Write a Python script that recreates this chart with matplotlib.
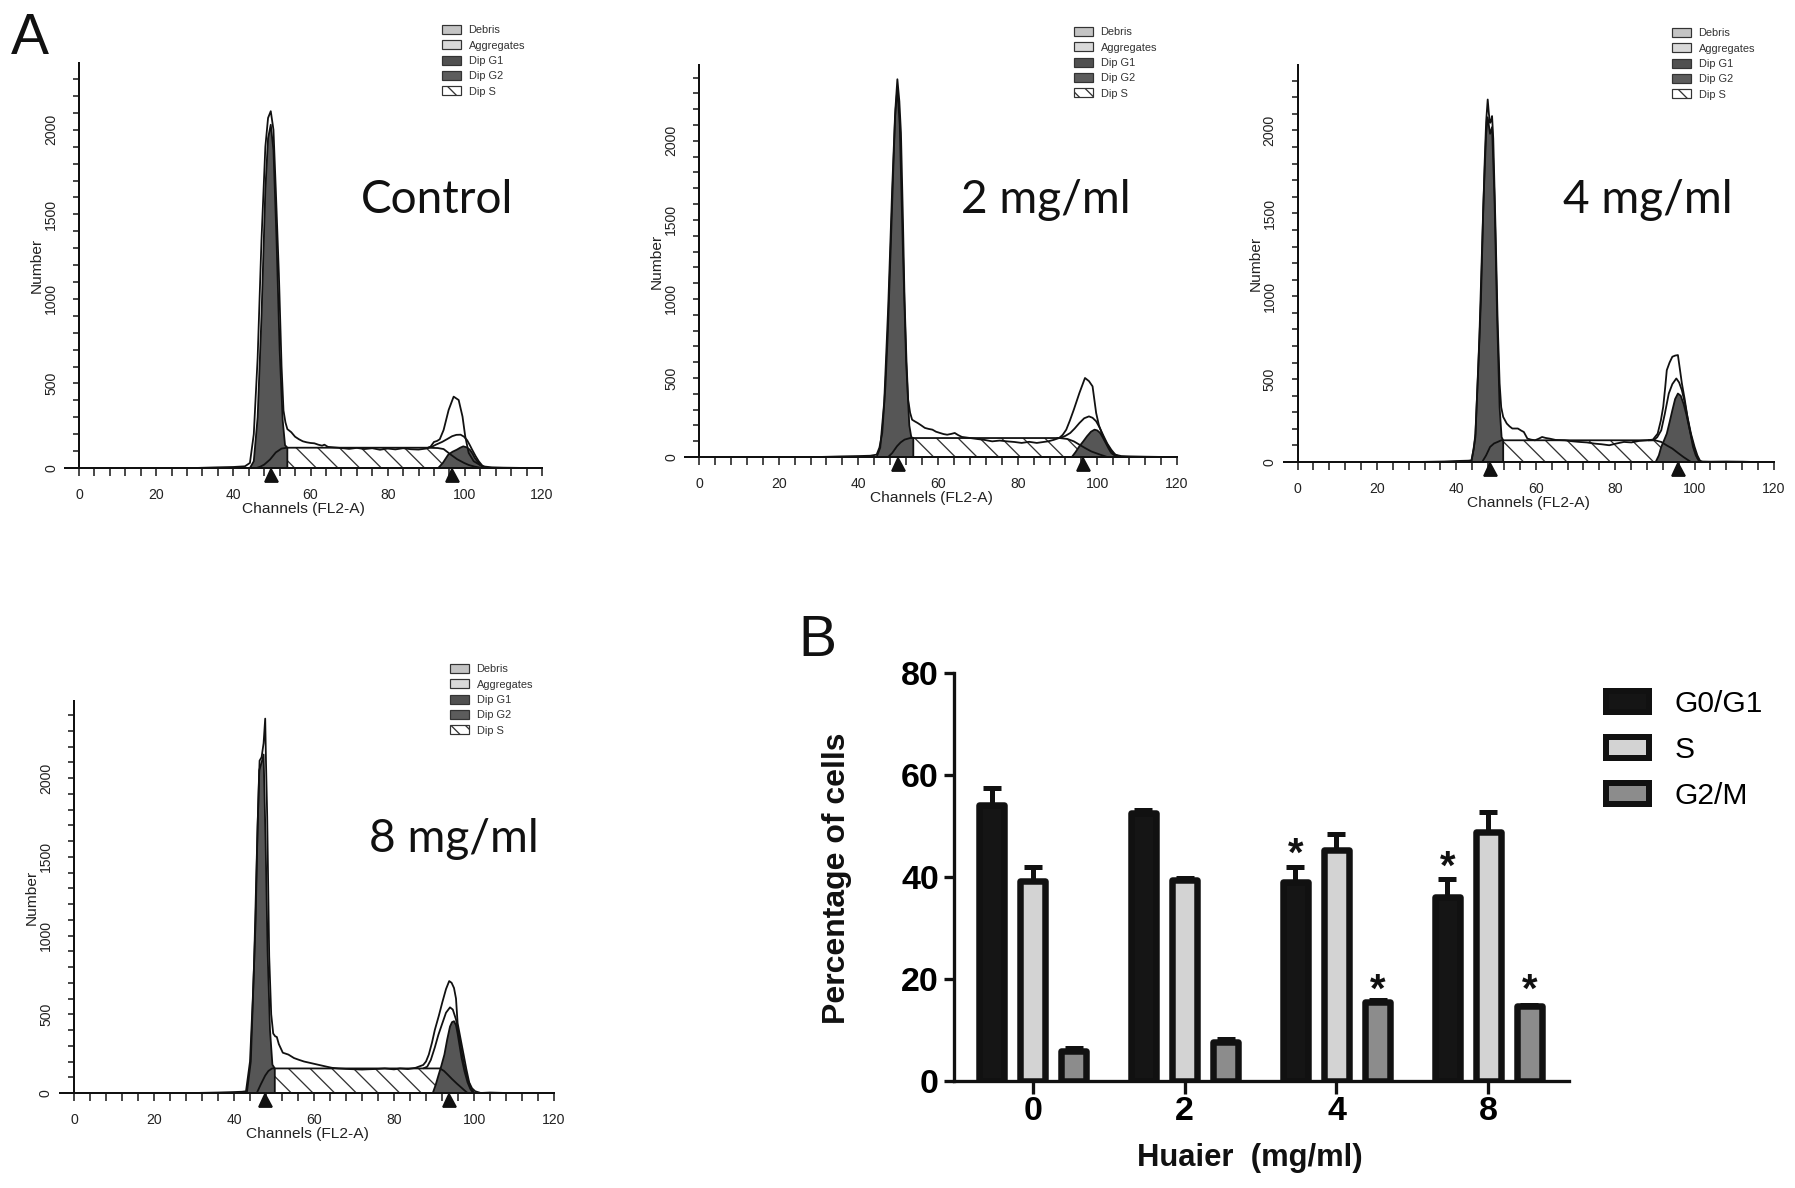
import numpy as np
import matplotlib
matplotlib.use('Agg')
import matplotlib.pyplot as plt
from matplotlib.patches import Patch
from matplotlib.ticker import MultipleLocator, FixedLocator
from matplotlib.transforms import offset_copy

DPI = 130
W, H = 1795, 1188


def pt(px):
    return px * 72.0 / DPI


plt.rcParams['font.family'] = ['Liberation Sans', 'DejaVu Sans']
plt.rcParams['hatch.linewidth'] = pt(1.3)
plt.rcParams['hatch.color'] = '#333333'

# ---------------------------------------------------------------- data (A)
hist_legend_labels = ['Debris', 'Aggregates', 'Dip G1', 'Dip G2', 'Dip S']
panel_titles = ['Control', '2 mg/ml', '4 mg/ml', '8 mg/ml']

# Control
ctrl_env_x = [30, 36, 40, 43, 44.3, 45.3, 46.3, 47.3, 48.3, 49.0, 49.7, 50.4, 51.0, 51.8, 52.5,
              53.0, 53.5, 54.0, 55.0, 56.0, 57.0, 58.0, 59.0, 60.0, 61.0, 62.0, 63.0, 63.6, 64.5,
              66.0, 68.0, 70.0, 72.0, 74.0, 76.0, 78.0, 80.0, 82.0, 84.0, 86.0, 88.0, 90.0, 91.1,
              92.0, 92.8, 93.5, 94.5, 95.8, 97.1, 98.4, 99.4, 100.1, 101.0, 102.3, 104.5, 107.0,
              110.0, 116.0]
ctrl_env_y = [0, 4, 6, 10, 30, 200, 650, 1350, 1900, 2070, 2110, 2000, 1650, 1150, 600,
              340, 270, 230, 212, 185, 170, 158, 152, 148, 146, 138, 132, 138, 125,
              122, 118, 113, 119, 112, 117, 108, 115, 110, 117, 111, 109, 115, 126,
              154, 160, 170, 225, 343, 422, 402, 304, 187, 89, 40, 10, 4,
              2, 0]
ctrl_g1_x = [44.3, 45.3, 46.3, 47.3, 48.3, 49.0, 49.7, 50.4, 51.2, 52.0, 52.8, 53.4, 54.0, 54.0]
ctrl_g1_y = [0, 40, 300, 900, 1650, 1950, 2030, 1880, 1350, 700, 280, 135, 120, 0]
ctrl_s_x = [46.0, 47.0, 48.0, 49.5, 51.0, 52.5, 54.0, 60, 70, 80, 90, 93.0, 94.5, 96.3, 98.0,
            99.8, 101.0, 102.4, 104.0, 105.0]
ctrl_s_y = [0, 8, 20, 50, 92, 115, 120, 120, 120, 120, 120, 118, 112, 80, 52, 30, 18, 9, 2, 0]
ctrl_g2_x = [93.1, 94.3, 95.7, 96.8, 97.9, 98.8, 99.6, 100.5, 101.3, 102.0, 102.6, 103.3, 103.9,
             104.6, 105.2]
ctrl_g2_y = [0, 30, 79, 96, 108, 120, 128, 122, 108, 85, 59, 38, 20, 9, 0]
ctrl_fit_x = [90.5, 91.5, 92.5, 94.1, 95.5, 96.7, 97.8, 98.9, 99.8, 100.6, 101.3, 101.9, 102.8,
              103.6, 104.5, 105.3]
ctrl_fit_y = [120, 126, 138, 154, 172, 188, 196, 197, 185, 164, 135, 108, 70, 40, 15, 4]
ctrl_peaks = [49.8, 96.7]

# 2 mg/ml
mg2_env_x = [30, 36, 40, 43, 44.6, 45.3, 46.0, 46.8, 47.4, 48.1, 48.8, 49.3, 49.8, 50.3,
             50.7, 51.2, 51.6, 52.1, 52.5, 53.0, 53.5, 54.2, 54.9, 55.8, 56.7, 57.6, 58.6, 59.5,
             60.5, 61.4, 62.3, 63.3, 64.2, 65.1, 66.0, 67.5, 69.8, 71.7, 73.6, 75.5, 77.3, 79.2,
             81.0, 82.9, 84.8, 86.2, 87.6, 89.0, 90.4, 91.3, 92.2, 93.1, 94.1, 95.5, 96.9, 97.9,
             98.8, 99.7, 100.4, 101.1, 101.8, 102.5, 103.4, 104.4, 106.0, 108.0, 112.0, 117.0]
mg2_env_y = [0, 4, 6, 8, 15, 60, 152, 450, 785, 1300, 1840, 2200, 2390, 2250,
             2050, 1500, 996, 600, 363, 280, 236, 225, 215, 200, 184, 178, 173, 160,
             152, 145, 141, 146, 152, 138, 127, 122, 114, 108, 99, 104, 99, 95,
             89, 96, 89, 94, 99, 108, 120, 140, 173, 230, 300, 405, 500, 480,
             447, 279, 200, 152, 110, 78, 40, 15, 6, 4, 2, 0]
mg2_g1_x = [44.6, 45.5, 46.5, 47.5, 48.5, 49.2, 49.8, 50.4, 51.2, 52.0, 52.8, 53.3, 53.8, 53.8]
mg2_g1_y = [0, 60, 350, 950, 1700, 2150, 2330, 2100, 1300, 600, 200, 125, 120, 0]
mg2_s_x = [47.5, 48.5, 49.7, 50.6, 51.6, 53.0, 60, 70, 80, 90.5, 92.5, 94.1, 95.5, 96.9, 98.5,
           100.7, 102.5]
mg2_s_y = [0, 25, 68, 92, 110, 120, 120, 120, 120, 120, 114, 99, 78, 57, 35, 15, 0]
mg2_g2_x = [93.6, 94.5, 95.5, 96.5, 97.4, 98.4, 99.3, 100.0, 100.7, 101.4, 102.1, 102.8, 103.5,
            104.9]
mg2_g2_y = [0, 30, 68, 100, 131, 160, 173, 168, 152, 122, 89, 55, 25, 0]
mg2_fit_x = [90.0, 90.8, 92.0, 93.2, 94.3, 95.5, 96.7, 97.9, 98.8, 99.7, 100.6, 101.6, 102.5,
             103.5, 104.4, 105.3]
mg2_fit_y = [120, 121, 134, 152, 180, 215, 245, 257, 248, 226, 185, 131, 85, 46, 18, 4]
mg2_peaks = [50.0, 96.5]

# 4 mg/ml
mg4_env_x = [30, 37, 40, 43.0, 43.8, 44.4, 44.8, 45.5, 46.2, 46.7, 47.1, 47.5, 47.9, 48.2, 48.5,
             48.8, 49.0, 49.3, 49.9, 50.4, 50.9, 51.3, 51.8, 52.7, 53.4, 54.1, 55.5, 56.3, 57.0,
             57.9, 58.8, 59.8, 60.7, 61.6, 62.5, 63.5, 65.0, 67.3, 69.2, 71.0, 72.9, 74.8, 76.6,
             78.5, 80.4, 82.2, 84.1, 86.0, 88.0, 89.5, 90.7, 91.5, 92.1, 92.6, 93.0, 93.7, 94.4,
             95.1, 95.8, 96.3, 96.8, 97.5, 98.2, 98.9, 99.6, 100.3, 101.0, 102.0, 104.0, 108.0,
             112.0, 115.0]
mg4_env_y = [0, 3, 6, 8, 10, 80, 171, 550, 978, 1450, 1784, 2050, 2187, 2100, 2046,
             2060, 2087, 1950, 1381, 850, 474, 330, 272, 232, 215, 202, 202, 190, 181,
             141, 135, 131, 140, 151, 145, 141, 133, 131, 125, 121, 118, 111, 107,
             101, 112, 121, 118, 127, 131, 135, 171, 250, 333, 450, 554, 600, 635,
             642, 645, 560, 474, 380, 272, 180, 91, 40, 10, 3, 2, 3,
             2, 0]
mg4_g1_x = [43.8, 44.8, 45.8, 46.8, 47.5, 47.9, 48.5, 49.0, 49.6, 50.3, 50.9, 51.4, 51.8, 51.8]
mg4_g1_y = [0, 150, 750, 1550, 1980, 2080, 1980, 2020, 1600, 850, 330, 150, 131, 0]
mg4_s_x = [46.5, 47.5, 48.5, 49.5, 50.4, 51.3, 60, 70, 80, 90, 91.6, 93.0, 94.4, 95.8, 97.2,
           98.2, 99.1]
mg4_s_y = [0, 40, 91, 112, 121, 131, 131, 131, 131, 131, 121, 100, 81, 55, 30, 14, 0]
mg4_g2_x = [90.2, 91.0, 91.6, 92.3, 93.0, 93.7, 94.4, 95.1, 95.8, 96.5, 97.2, 97.9, 98.6, 99.3,
            100.0, 100.7, 101.4]
mg4_g2_y = [0, 40, 91, 130, 171, 240, 312, 380, 413, 400, 353, 290, 212, 140, 71, 25, 0]
mg4_fit_x = [88.5, 89.7, 90.6, 91.6, 92.5, 93.5, 94.4, 95.4, 96.1, 96.8, 97.5, 98.2, 99.1, 100.0,
             100.7, 101.4]
mg4_fit_y = [131, 132, 150, 191, 290, 413, 470, 504, 480, 433, 360, 272, 170, 91, 40, 6]
mg4_peaks = [48.5, 95.8]

# 8 mg/ml
mg8_env_x = [30, 36, 40, 42.0, 43.0, 44.0, 44.7, 45.4, 45.9, 46.4, 46.9, 47.4, 47.8, 48.0, 48.3,
             48.8, 49.3, 49.8, 50.3, 50.7, 51.2, 52.2, 53.6, 55.0, 56.2, 57.5, 59.4, 61.3, 63.2,
             64.5, 66.1, 68.0, 70.0, 72.0, 73.8, 76.0, 77.7, 80.0, 81.5, 83.5, 85.4, 87.3, 88.0,
             88.7, 89.5, 90.2, 91.2, 92.1, 93.0, 93.8, 94.4, 95.0, 95.5, 95.9, 96.6, 97.4, 98.1,
             98.8, 99.5, 100.3, 101.7, 104.0, 108.0]
mg8_env_y = [0, 3, 6, 8, 11, 200, 600, 1089, 1700, 2111, 2133, 2222, 2378, 2100, 1755,
             867, 500, 378, 360, 356, 311, 256, 244, 222, 211, 200, 189, 178, 167,
             160, 156, 153, 151, 149, 151, 153, 156, 150, 156, 152, 160, 178, 200,
             244, 320, 400, 490, 578, 660, 711, 700, 667, 600, 444, 350, 244, 150,
             67, 30, 11, 0, 3, 0]
mg8_g1_x = [43.2, 44.2, 45.0, 45.7, 46.3, 46.9, 47.4, 47.9, 48.4, 49.0, 49.6, 50.2, 50.2]
mg8_g1_y = [0, 200, 800, 1500, 2050, 2100, 2150, 1600, 900, 400, 180, 156, 0]
mg8_s_x = [45.7, 46.7, 47.8, 48.6, 49.5, 60, 70, 80, 91.5, 92.5, 93.5, 94.5, 95.7, 96.9, 97.7,
           98.4]
mg8_s_y = [0, 55, 111, 140, 156, 156, 156, 156, 156, 140, 115, 89, 60, 33, 15, 0]
mg8_g2_x = [89.7, 90.4, 91.1, 91.8, 92.6, 93.3, 94.0, 94.5, 95.0, 95.5, 95.9, 96.4, 96.9, 97.6,
            98.4, 99.1, 99.8]
mg8_g2_y = [0, 50, 111, 170, 244, 340, 422, 450, 456, 430, 378, 300, 222, 140, 67, 25, 0]
mg8_fit_x = [87.5, 88.3, 89.2, 90.2, 91.1, 92.1, 93.0, 94.0, 94.7, 95.5, 96.2, 96.9, 97.6, 98.4,
             99.1, 99.8]
mg8_fit_y = [158, 167, 210, 289, 370, 444, 510, 544, 530, 467, 370, 267, 170, 89, 40, 11]
mg8_peaks = [47.8, 93.8]

# ---------------------------------------------------------------- data (B)
doses = ['0', '2', '4', '8']
phases = ['G0/G1', 'S', 'G2/M']
g0g1_mean = [54.2, 52.6, 39.0, 36.0]
g0g1_err = [3.2, 0.6, 3.0, 3.6]
s_mean = [39.3, 39.5, 45.2, 48.8]
s_err = [2.7, 0.3, 3.3, 4.0]
g2m_mean = [5.9, 7.7, 15.4, 14.7]
g2m_err = [0.6, 0.6, 0.5, 0.3]
star_dose_idx = [2, 3, 2, 3]
star_phase_idx = [0, 0, 2, 2]
star_y = [46.2, 43.6, 19.5, 19.5]

# ---------------------------------------------------------------- figure
fig = plt.figure(figsize=(W / DPI, H / DPI), dpi=DPI)
fig.patch.set_facecolor('white')


def box(l, t, r, b):
    return [l / W, 1 - b / H, (r - l) / W, (b - t) / H]


DARK = '#565656'
LEG_COLORS = ['#c4c4c4', '#d9d9d9', '#505050', '#5c5c5c', 'white']
LEG_HATCH = [None, None, None, None, '\\\\\\']


def hist_panel(x0, x120, y0, ytop, ymax, env_x, env_y, g1_x, g1_y, s_x, s_y,
               g2_x, g2_y, fit_x, fit_y, peaks, leg_xy):
    pxch = (x120 - x0) / 120.0
    left = x0 - 3.5 * pxch
    ax = fig.add_axes(box(left, ytop, x120, y0))
    ax.set_xlim(-3.5, 120)
    ax.set_ylim(0, ymax)
    ax.set_facecolor('none')
    for s in ('top', 'right'):
        ax.spines[s].set_visible(False)
    ax.spines['left'].set_position(('data', 0))
    for s in ('left', 'bottom'):
        ax.spines[s].set_linewidth(pt(2))
        ax.spines[s].set_color('#111111')

    ax.fill_between(s_x, 0, s_y, facecolor='white', edgecolor='#333333',
                    hatch='\\\\', linewidth=0, zorder=1)
    ax.fill_between(g1_x, 0, g1_y, facecolor=DARK, linewidth=0, zorder=2)
    ax.fill_between(g2_x, 0, g2_y, facecolor=DARK, linewidth=0, zorder=2)
    lw = pt(1.8)
    for xx, yy in ((s_x, s_y), (g1_x, g1_y), (g2_x, g2_y), (fit_x, fit_y), (env_x, env_y)):
        ax.plot(xx, yy, color='#111111', lw=lw, zorder=3, solid_joinstyle='round')

    ax.xaxis.set_major_locator(MultipleLocator(20))
    ax.xaxis.set_minor_locator(MultipleLocator(4))
    ax.yaxis.set_major_locator(FixedLocator([0, 500, 1000, 1500, 2000]))
    ax.yaxis.set_minor_locator(FixedLocator(list(range(100, int(ymax) - 20, 100))))
    ax.tick_params(axis='both', which='both', direction='out', width=pt(1.5), color='#111111')
    ax.tick_params(axis='x', which='both', length=pt(8), labelsize=pt(14), pad=pt(12),
                   labelcolor='#222222')
    ax.tick_params(axis='y', which='both', length=pt(6), labelsize=pt(14), pad=pt(15),
                   labelcolor='#222222', labelrotation=90)
    for t in ax.get_yticklabels():
        t.set_verticalalignment('center')

    ax.set_xlabel('Channels (FL2-A)', fontsize=pt(15.5), labelpad=pt(0), color='#222222')
    ax.text(0, 0.5, 'Number', rotation=90, ha='center', va='center', fontsize=pt(15.5),
            color='#222222',
            transform=offset_copy(ax.get_xaxis_transform(), fig=fig, x=-42, units='dots'))

    tr = offset_copy(ax.get_xaxis_transform(), fig=fig, y=-7, units='dots')
    ax.plot(peaks, [0] * len(peaks), ls='none', marker='^', ms=pt(13), color='#111111',
            transform=tr, clip_on=False, zorder=5)

    handles = [Patch(facecolor=c, edgecolor='#333333', linewidth=pt(1.2), hatch=h, label=l)
               for c, h, l in zip(LEG_COLORS, LEG_HATCH, hist_legend_labels)]
    ax.legend(handles=handles, loc='upper left',
              bbox_to_anchor=(leg_xy[0] / W, 1 - leg_xy[1] / H),
              bbox_transform=fig.transFigure, frameon=False, prop={'size': pt(11)},
              handlelength=1.7, handleheight=0.9, labelspacing=0.45, handletextpad=0.72,
              borderpad=0, borderaxespad=0, labelcolor='#333333')
    return ax


hist_panel(79, 542, 468, 63, 2395, ctrl_env_x, ctrl_env_y, ctrl_g1_x, ctrl_g1_y,
           ctrl_s_x, ctrl_s_y, ctrl_g2_x, ctrl_g2_y, ctrl_fit_x, ctrl_fit_y, ctrl_peaks, (442, 25))
hist_panel(699, 1177, 457, 65, 2480, mg2_env_x, mg2_env_y, mg2_g1_x, mg2_g1_y,
           mg2_s_x, mg2_s_y, mg2_g2_x, mg2_g2_y, mg2_fit_x, mg2_fit_y, mg2_peaks, (1074, 27))
hist_panel(1297.5, 1774, 462, 65, 2395, mg4_env_x, mg4_env_y, mg4_g1_x, mg4_g1_y,
           mg4_s_x, mg4_s_y, mg4_g2_x, mg4_g2_y, mg4_fit_x, mg4_fit_y, mg4_peaks, (1672, 28))
hist_panel(74, 554, 1093, 701, 2490, mg8_env_x, mg8_env_y, mg8_g1_x, mg8_g1_y,
           mg8_s_x, mg8_s_y, mg8_g2_x, mg8_g2_y, mg8_fit_x, mg8_fit_y, mg8_peaks, (450, 664))

# big in-panel titles (font size fitted to the reference widths)
renderer = fig.canvas.get_renderer()
title_pos = [(361, 213, 151), (961, 213, 168), (1563, 213, 173), (369, 852, 170)]
texts = []
tot_w = 0.0
tot_t = 0.0
for s, (x, y, wt) in zip(panel_titles, title_pos):
    t = fig.text(x / W, 1 - y / H, s, fontfamily=['Lato', 'DejaVu Sans'], fontsize=30,
                 ha='left', va='baseline', color='#111111')
    tot_w += t.get_window_extent(renderer).width
    tot_t += wt
    texts.append(t)
fs_title = 30 * tot_t / tot_w
for t in texts:
    t.set_fontsize(fs_title)

fig.text(11 / W, 1 - 54 / H, 'A', fontsize=pt(57), va='baseline', ha='left', color='#111111')
fig.text(798 / W, 1 - 656 / H, 'B', fontsize=pt(57), va='baseline', ha='left', color='#111111')

# ---------------------------------------------------------------- panel B
axB = fig.add_axes(box(954, 673, 1569, 1081))
axB.set_xlim(-0.517, 3.53)
axB.set_ylim(0, 80)
axB.set_facecolor('none')
for s in ('top', 'right'):
    axB.spines[s].set_visible(False)
for s in ('left', 'bottom'):
    axB.spines[s].set_linewidth(pt(3.3))
    axB.spines[s].set_color('#111111')

xpos = np.arange(len(doses))
offs = [-0.27, 0.0, 0.27]
bar_colors = ['#151515', '#d3d3d3', '#8c8c8c']
means = [g0g1_mean, s_mean, g2m_mean]
errs = [g0g1_err, s_err, g2m_err]
for i in range(3):
    m = np.array(means[i])
    e = np.array(errs[i])
    axB.bar(xpos + offs[i], m, width=0.166, color=bar_colors[i], edgecolor='#111111',
            linewidth=pt(6.5), zorder=3, label=phases[i], joinstyle='round')
    axB.errorbar(xpos + offs[i], m, yerr=[np.zeros_like(e), e], fmt='none', ecolor='#111111',
                 elinewidth=pt(5), capsize=pt(9), capthick=pt(5), zorder=2)

for di, pi, yy in zip(star_dose_idx, star_phase_idx, star_y):
    axB.text(xpos[di] + offs[pi], yy, '*', ha='center', va='center', fontsize=pt(40),
             fontweight='bold', color='#111111',
             transform=offset_copy(axB.transData, fig=fig, y=-9, units='dots'))

axB.set_xticks(xpos)
axB.set_xticklabels(doses)
axB.set_yticks([0, 20, 40, 60, 80])
axB.tick_params(axis='both', direction='out', width=pt(3.3), color='#111111',
                labelsize=pt(34))
axB.tick_params(axis='x', length=pt(13), pad=pt(2))
axB.tick_params(axis='y', length=pt(10), pad=pt(5))
for t in axB.get_xticklabels() + axB.get_yticklabels():
    t.set_fontweight('bold')

fig.text(845 / W, 1 - 878 / H, 'Percentage of cells', rotation=90, rotation_mode='anchor',
         ha='center', va='baseline', fontsize=pt(32), fontweight='bold', color='#111111')
fig.text(1250 / W, 1 - 1166 / H, 'Huaier  (mg/ml)', ha='center', va='baseline',
         fontsize=pt(31), fontweight='bold', color='#111111')

hB = [Patch(facecolor=c, edgecolor='#111111', linewidth=pt(6), label=l, joinstyle='round')
      for c, l in zip(bar_colors, phases)]
axB.legend(handles=hB, loc='upper left', bbox_to_anchor=(1606 / W, 1 - 690 / H),
           bbox_transform=fig.transFigure, frameon=False, prop={'size': pt(30)},
           handlelength=1.43, handleheight=0.7, labelspacing=0.6, handletextpad=0.87,
           borderpad=0, borderaxespad=0)

fig.savefig('out.png', dpi=DPI, facecolor='white')
